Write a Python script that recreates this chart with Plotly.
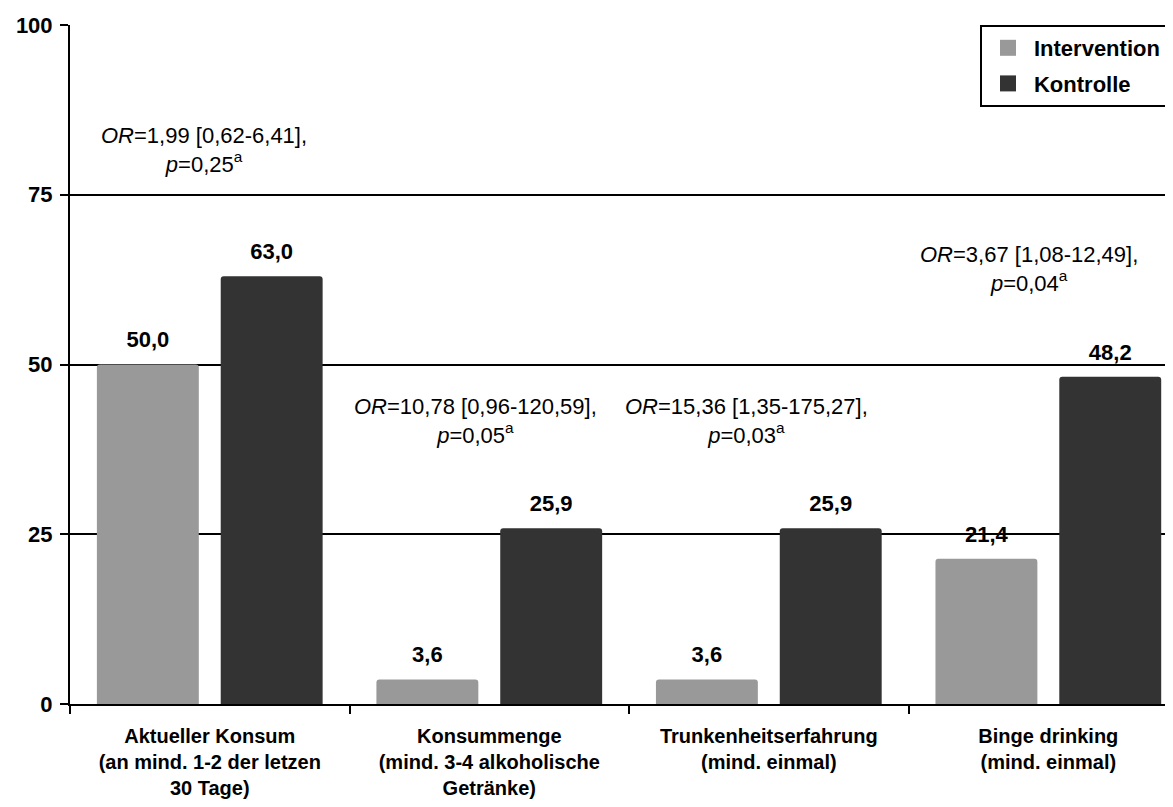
import plotly.graph_objects as go

categories = [
    "Aktueller Konsum<br>(an mind. 1-2 der letzen<br>30 Tage)",
    "Konsummenge<br>(mind. 3-4 alkoholische<br>Getränke)",
    "Trunkenheitserfahrung<br>(mind. einmal)",
    "Binge drinking<br>(mind. einmal)",
]
intervention = [50.0, 3.6, 3.6, 21.4]
kontrolle = [63.0, 25.9, 25.9, 48.2]
or_texts = [
    "<i>OR</i>=1,99 [0,62-6,41],<br><i>p</i>=0,25<sup>a</sup>",
    "<i>OR</i>=10,78 [0,96-120,59],<br><i>p</i>=0,05<sup>a</sup>",
    "<i>OR</i>=15,36 [1,35-175,27],<br><i>p</i>=0,03<sup>a</sup>",
    "<i>OR</i>=3,67 [1,08-12,49],<br><i>p</i>=0,04<sup>a</sup>",
]
or_x = [-0.02, 0.95, 1.92, 2.93]
or_y = [81.6, 41.7, 41.7, 64.1]
y_ticks = [0, 25, 50, 75, 100]

FONT = "Liberation Sans, Arial, sans-serif"
C_INT = "#999999"
C_KON = "#333333"

fig = go.Figure()
for name, vals, col, grp in [("Intervention", intervention, C_INT, "i"),
                             ("Kontrolle", kontrolle, C_KON, "k")]:
    fig.add_trace(go.Bar(
        name=name, x=categories, y=vals, offsetgroup=grp,
        marker=dict(color=col, cornerradius=3, line=dict(width=0)),
        showlegend=False, hoverinfo="x+y",
    ))
for name, vals, col, grp in [("Intervention", intervention, C_INT, "i"),
                             ("Kontrolle", kontrolle, C_KON, "k")]:
    # value labels above the bars
    fig.add_trace(go.Scatter(
        x=categories, y=vals, offsetgroup=grp, mode="markers+text",
        text=[f"<b>{v:.1f}</b>".replace(".", ",") for v in vals],
        textposition="top center",
        textfont=dict(family=FONT, size=22, color="black"),
        marker=dict(size=17, opacity=0), showlegend=False,
        cliponaxis=False, hoverinfo="skip",
    ))
for name, col, grp in [("Intervention", C_INT, "i"), ("Kontrolle", C_KON, "k")]:
    fig.add_trace(go.Scatter(
        x=[None], y=[None], mode="markers",
        name=f"<b>{name}</b>\u00a0\u00a0\u00a0",
        offsetgroup=grp, legendgroup=grp,
        marker=dict(symbol="square", size=16, color=col),
    ))

for t, x, y in zip(or_texts, or_x, or_y):
    fig.add_annotation(x=x, y=y, xref="x", yref="y", text=t, showarrow=False,
                       align="center", xanchor="center", yanchor="middle",
                       font=dict(family=FONT, size=22, color="black"))

# page body has an 8px margin; the figure is sized/offset to compensate
fig.update_layout(
    width=1165, height=799,
    margin=dict(l=62, r=0, t=17, b=103, autoexpand=False),
    paper_bgcolor="white", plot_bgcolor="white",
    separators=",.",
    barmode="group", bargap=0.114, bargroupgap=0.177,
    scattermode="group", scattergap=0.114,
    font=dict(family=FONT, size=21, color="black"),
    legend=dict(
        x=0.825, y=1, xanchor="left", yanchor="top",
        bordercolor="black", borderwidth=2, bgcolor="white",
        font=dict(family=FONT, size=22, color="black"),
        traceorder="grouped", tracegroupgap=4, itemwidth=42,
    ),
    xaxis=dict(
        type="category", range=[-0.5, 3.446], automargin=False,
        showline=True, linecolor="black", linewidth=2,
        ticks="outside", tickson="boundaries", ticklen=8, tickwidth=2, tickcolor="black",
        tickfont=dict(family=FONT, size=20, color="black", weight="bold"),
        showgrid=False, ticklabelstandoff=13,
    ),
    yaxis=dict(
        range=[0, 100], tickvals=y_ticks, automargin=False,
        showline=True, linecolor="black", linewidth=2,
        ticks="outside", ticklen=8, tickwidth=2, tickcolor="black",
        tickfont=dict(family=FONT, size=22, color="black", weight="bold"),
        showgrid=True, gridcolor="black", gridwidth=2,
        zeroline=False, ticklabelstandoff=3,
    ),
)

fig.write_html("out.html")
